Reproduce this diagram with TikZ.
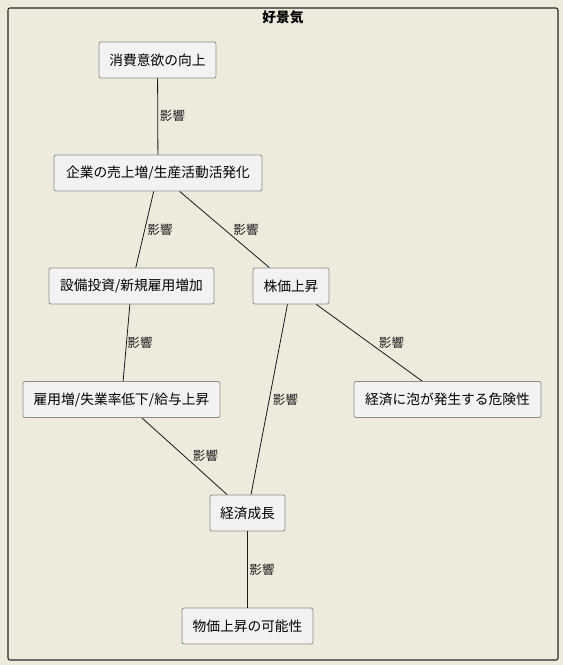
\documentclass[tikz,border=0pt]{standalone}
\usepackage{fontspec}
\setmainfont{Noto Sans CJK JP}
\definecolor{bgc}{RGB}{238,234,220}
\definecolor{nodefill}{RGB}{242,242,242}
\definecolor{nodeline}{RGB}{140,140,140}
\definecolor{framec}{RGB}{40,40,40}
\begin{document}
\begin{tikzpicture}[x=0.75pt,y=-0.75pt,
  box/.style={draw=nodeline, fill=nodefill, rounded corners=1.5pt, line width=0.6pt,
     minimum height=27pt, inner xsep=0pt, font=\fontsize{10.3pt}{12pt}\selectfont, text=black},
  lbl/.style={font=\fontsize{9.4pt}{11pt}\selectfont, text=black!90, inner sep=0pt},
  conn/.style={draw=black!90, line width=0.6pt}]
\fill[bgc] (0,0) rectangle (563,665);
\useasboundingbox (0,0) rectangle (563,665);
\draw[framec, line width=0.8pt, rounded corners=1.5pt] (8,8) rectangle (558,660);
\node[font=\bfseries\fontsize{10.3pt}{12pt}\selectfont, inner sep=0pt] (title) at (283,17) {好景気};

\node[box, minimum width=87.75pt] (n1) at (157.5,60) {消費意欲の向上};
\node[box, minimum width=156pt] (n2) at (158,173) {企業の売上増/生産活動活発化};
\node[box, minimum width=123.75pt] (n3) at (131.5,286) {設備投資/新規雇用増加};
\node[box, minimum width=57pt] (n4) at (291,286) {株価上昇};
\node[box, minimum width=147.75pt] (n5) at (121.5,399.5) {雇用増/失業率低下/給与上昇};
\node[box, minimum width=140.25pt] (n6) at (447.5,399.5) {経済に泡が発生する危険性};
\node[box, minimum width=56.25pt] (n7) at (247.5,513) {経済成長};
\node[box, minimum width=98.25pt] (n8) at (247.5,626) {物価上昇の可能性};

\draw[conn] (n1) -- (n2);
\draw[conn] (n2) -- (n3);
\draw[conn] (n2) -- (n4);
\draw[conn] (n3) -- (n5);
\draw[conn] (n4) -- (n6);
\draw[conn] (n4) -- (n7);
\draw[conn] (n5) -- (n7);
\draw[conn] (n7) -- (n8);

\node[lbl] (l12) at (172.5,116) {影響};
\node[lbl] (l23) at (160,230) {影響};
\node[lbl] (l24) at (246,230) {影響};
\node[lbl] (l35) at (140,343) {影響};
\node[lbl] (l46) at (391.5,343) {影響};
\node[lbl] (l47) at (285.5,400) {影響};
\node[lbl] (l57) at (205.5,456) {影響};
\node[lbl] (l78) at (262,570) {影響};
\end{tikzpicture}
\end{document}
